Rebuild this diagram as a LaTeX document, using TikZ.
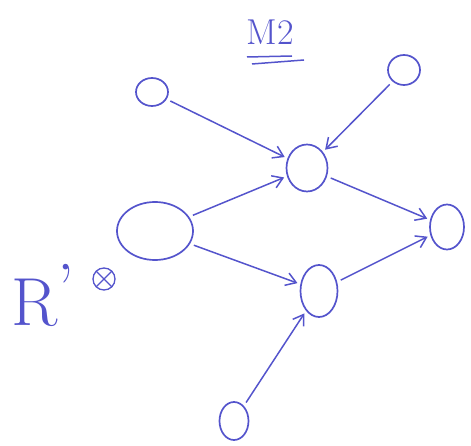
\documentclass[tikz,border=0pt]{standalone}
\usetikzlibrary{arrows.meta,shapes.geometric}
\definecolor{ink}{RGB}{84,84,204}
\begin{document}
\begin{tikzpicture}[x=1pt,y=-1pt,
  nd/.style={draw=ink,line width=1.7pt,ellipse,inner sep=0pt},
  ar/.style={draw=ink,line width=1.5pt,shorten >=3pt,shorten <=4pt,-{Straight Barb[length=10pt,width=13pt]}},
  lbl/.style={text=ink}]
\useasboundingbox (0,0) rectangle (471,446);
\node[nd,minimum width=32pt,minimum height=28pt] (a) at (152,92) {};
\node[nd,minimum width=32pt,minimum height=30pt] (b) at (404,70) {};
\node[nd,minimum width=41pt,minimum height=47pt] (c) at (307,168) {};
\node[nd,minimum width=76pt,minimum height=58pt] (d) at (155,231) {};
\node[nd,minimum width=34pt,minimum height=45pt] (e) at (447,227) {};
\node[nd,minimum width=37pt,minimum height=52pt] (f) at (319,291) {};
\node[nd,minimum width=29pt,minimum height=38pt] (g) at (234,421) {};
\node[lbl,font=\fontsize{36}{38}\selectfont] (t) at (270,32) {M2};
\draw[ink,line width=1.5pt] (247,57) -- (292,56);
\draw[ink,line width=1.5pt] (252,64) -- (304,60);
\node[lbl,font=\fontsize{68}{70}\selectfont,anchor=base west] (r) at (8,325) {R\raisebox{14pt}{'}};
\node[draw=ink,line width=1.3pt,circle,minimum size=22pt,inner sep=0pt] (s) at (104,279) {};
\draw[ink,line width=1.1pt] (s.north west) -- (s.south east) (s.north east) -- (s.south west);
\draw[ar] (a) -- (c);
\draw[ar] (b) -- (c);
\draw[ar] (d) -- (c);
\draw[ar] (c) -- (e);
\draw[ar] (d) -- (f);
\draw[ar] (f) -- (e);
\draw[ar] (g) -- (f);
\end{tikzpicture}
\end{document}
